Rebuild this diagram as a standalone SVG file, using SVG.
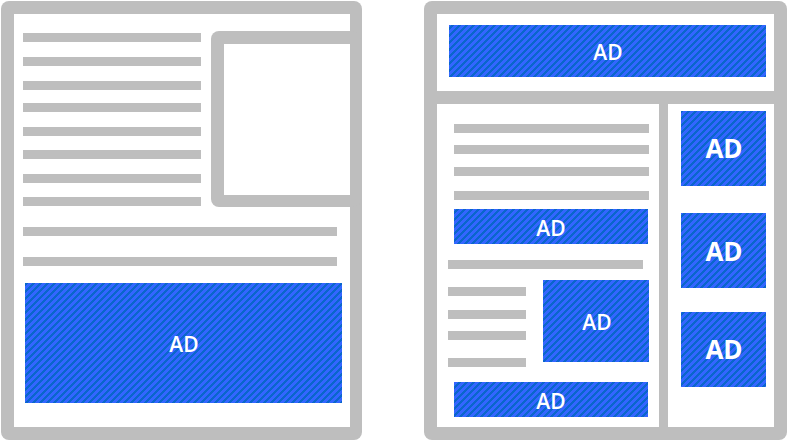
<svg xmlns="http://www.w3.org/2000/svg" width="788" height="441" viewBox="0 0 788 441">
  <defs>
    <pattern id="hatch" patternUnits="userSpaceOnUse" width="7" height="7">
      <g shape-rendering="crispEdges">
        <rect width="7" height="7" fill="#3366ff"/>
        <g fill="#0a66cc">
          <rect x="0" y="0" width="3" height="1"/>
          <rect x="0" y="1" width="2" height="1"/>
          <rect x="6" y="1" width="1" height="1"/>
          <rect x="0" y="2" width="1" height="1"/>
          <rect x="5" y="2" width="2" height="1"/>
          <rect x="4" y="3" width="3" height="1"/>
          <rect x="3" y="4" width="3" height="1"/>
          <rect x="2" y="5" width="3" height="1"/>
          <rect x="1" y="6" width="3" height="1"/>
        </g>
      </g>
    </pattern>
    <style>
      .frame { fill: #bebebe; }
      .paper { fill: #ffffff; }
      .line { fill: #bebebe; }
      .ad { fill: url(#hatch); }
      .lbl { fill: #ffffff; font-family: "Open Sans", "DejaVu Sans", sans-serif; font-size: 21px; font-weight: 600; text-anchor: middle; }
      .lbl-big { fill: #ffffff; font-family: "Open Sans", "DejaVu Sans", sans-serif; font-size: 26px; font-weight: 700; text-anchor: middle; }
    </style>
  </defs>

  <!-- Left page -->
  <g id="left-page">
    <rect class="frame" x="1" y="1" width="361" height="439" rx="8"/>
    <rect class="paper" x="14" y="14" width="336" height="413"/>
  </g>
  <g id="left-image-box">
    <rect class="frame" x="211" y="31" width="150" height="176" rx="8"/>
    <rect class="paper" x="224" y="44" width="126" height="151"/>
  </g>
  <g id="left-text-lines">
    <rect class="line" x="23" y="33" width="178" height="9"/>
    <rect class="line" x="23" y="57" width="178" height="9"/>
    <rect class="line" x="23" y="81" width="178" height="9"/>
    <rect class="line" x="23" y="103" width="178" height="9"/>
    <rect class="line" x="23" y="127" width="178" height="9"/>
    <rect class="line" x="23" y="150" width="178" height="9"/>
    <rect class="line" x="23" y="174" width="178" height="9"/>
    <rect class="line" x="23" y="197" width="178" height="9"/>
    <rect class="line" x="23" y="227" width="314" height="9"/>
    <rect class="line" x="23" y="257" width="314" height="9"/>
  </g>
  <g id="left-ad">
    <rect class="ad" x="25" y="283" width="317" height="120"/>
    <text class="lbl" x="184" y="351.5">AD</text>
  </g>

  <!-- Right page -->
  <g id="right-page">
    <rect class="frame" x="424" y="1" width="363" height="439" rx="8"/>
    <rect class="paper" x="437" y="14" width="337" height="77"/>
    <rect class="paper" x="437" y="104" width="222" height="323"/>
    <rect class="paper" x="668" y="104" width="106" height="323"/>
  </g>
  <g id="right-top-ad">
    <rect class="ad" x="449" y="25" width="317" height="52"/>
    <text class="lbl" x="608" y="59.5">AD</text>
  </g>
  <g id="right-text-lines">
    <rect class="line" x="454" y="124" width="195" height="9"/>
    <rect class="line" x="454" y="145" width="195" height="9"/>
    <rect class="line" x="454" y="167" width="195" height="9"/>
    <rect class="line" x="454" y="191" width="195" height="9"/>
    <rect class="line" x="448" y="260" width="195" height="9"/>
    <rect class="line" x="448" y="287" width="78" height="9"/>
    <rect class="line" x="448" y="310" width="78" height="9"/>
    <rect class="line" x="448" y="331" width="78" height="9"/>
    <rect class="line" x="448" y="358" width="78" height="9"/>
  </g>
  <g id="right-inline-ad-1">
    <rect class="ad" x="454" y="209" width="194" height="35"/>
    <text class="lbl" x="551" y="235.5">AD</text>
  </g>
  <g id="right-inline-ad-2">
    <rect class="ad" x="543" y="280" width="106" height="82"/>
    <text class="lbl" x="597" y="329.5">AD</text>
  </g>
  <g id="right-inline-ad-3">
    <rect class="ad" x="454" y="382" width="194" height="35"/>
    <text class="lbl" x="551" y="408.5">AD</text>
  </g>
  <g id="right-side-ad-1">
    <rect class="ad" x="681" y="111" width="85" height="75"/>
    <text class="lbl-big" x="724" y="158">AD</text>
  </g>
  <g id="right-side-ad-2">
    <rect class="ad" x="681" y="213" width="85" height="75"/>
    <text class="lbl-big" x="724" y="260.5">AD</text>
  </g>
  <g id="right-side-ad-3">
    <rect class="ad" x="681" y="312" width="85" height="75"/>
    <text class="lbl-big" x="724" y="359">AD</text>
  </g>

  <g id="connectors"/>
</svg>
